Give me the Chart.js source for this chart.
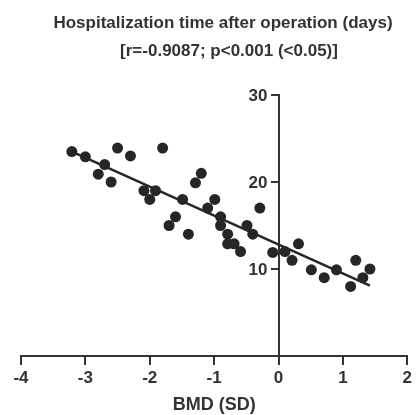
<!DOCTYPE html>
<html>
<head>
<meta charset="utf-8">
<script src="https://cdn.jsdelivr.net/npm/chart.js@4"></script>
<style>
  html, body { margin: 0; padding: 0; background: #fff; }
  #wrap { width: 416px; height: 415px; }
</style>
</head>
<body>
<div id="wrap"><canvas id="bmdChart" width="416" height="415"></canvas></div>
<script>
// values
const bmdSD = [-3.21, -3.0, -2.50, -2.30, -1.80, -2.70, -2.80, -2.60, -2.09, -1.91,
               -2.0, -1.70, -1.20, -1.29, -1.49, -0.99, -1.10, -0.29, -1.60, -0.90,
               -0.90, -0.49, -1.40, -0.40, -0.79, -0.79, -0.69, -0.59, -0.09, 0.10,
               0.31, 0.21, 0.51, 0.71, 0.90, 1.20, 1.42, 1.31, 1.12];
const hospDays = [23.5, 22.9, 23.9, 23.0, 23.9, 22.0, 20.9, 20.0, 19.0, 19.0,
                  18.0, 15.0, 21.0, 19.9, 18.0, 18.0, 17.0, 17.0, 16.0, 16.0,
                  15.0, 15.0, 14.0, 14.0, 14.0, 12.9, 12.9, 12.0, 11.9, 12.0,
                  12.9, 11.0, 9.9, 9.0, 9.9, 11.0, 10.0, 9.0, 8.0];
const fitX = [-3.21, 1.42];
const fitY = [23.5, 8.1];
const xTicks = [-4, -3, -2, -1, 0, 1, 2];
const yTicks = [10, 20, 30];
const titleLines = ['Hospitalization time after operation (days)', '[r=-0.9087; p<0.001 (<0.05)]'];
const xTitle = 'BMD (SD)';

const ink = '#262626';
const axisColor = '#333';
const fontStack = 'Arial, "Liberation Sans", sans-serif';
const boldFont = { family: fontStack, size: 17, weight: 'bold' };

// titles + y tick labels (Chart.js ignores tick padding on a value-positioned y axis)
const textPlugin = {
    id: 'prismText',
    afterDraw(chart) {
        const { ctx, chartArea, scales } = chart;
        ctx.save();
        ctx.fillStyle = axisColor;
        ctx.textAlign = 'center';
        ctx.textBaseline = 'alphabetic';
        ctx.font = 'bold 17px ' + fontStack;
        ctx.fillText(titleLines[0], 223, 28);
        ctx.fillText(titleLines[1], 229, 56);
        ctx.font = 'bold 18px ' + fontStack;
        ctx.fillText(xTitle, (chartArea.left + chartArea.right) / 2, 410);

        ctx.font = 'bold 17px ' + fontStack;
        ctx.textAlign = 'right';
        ctx.textBaseline = 'middle';
        const axisX = scales.x.getPixelForValue(0);
        scales.y.ticks.forEach(t => {
            ctx.fillText(String(t.value), axisX - 11, scales.y.getPixelForValue(t.value) + 1);
        });
        ctx.restore();
    }
};

new Chart(document.getElementById('bmdChart'), {
    type: 'scatter',
    data: {
        datasets: [
            {
                type: 'line',
                label: 'Fit',
                data: fitX.map((x, i) => ({ x: x, y: fitY[i] })),
                borderColor: ink,
                borderWidth: 2.5,
                pointRadius: 0,
                fill: false,
                order: 2
            },
            {
                label: 'Patients',
                data: bmdSD.map((x, i) => ({ x: x, y: hospDays[i] })),
                backgroundColor: ink,
                borderWidth: 0,
                pointRadius: 5.5,
                order: 1
            }
        ]
    },
    options: {
        responsive: false,
        animation: false,
        layout: { padding: { left: 21, right: 7, top: 95, bottom: 59 } },
        plugins: {
            legend: { display: false },
            tooltip: { enabled: false }
        },
        scales: {
            x: {
                type: 'linear',
                position: { y: 0 },
                min: -4,
                max: 2,
                afterBuildTicks: s => { s.ticks = xTicks.map(v => ({ value: v })); },
                grid: { drawOnChartArea: false, drawTicks: true, tickLength: 8, color: axisColor, lineWidth: 2 },
                border: { display: true, color: axisColor, width: 2 },
                ticks: { font: boldFont, color: axisColor, padding: 4, maxRotation: 0 }
            },
            y: {
                type: 'linear',
                position: { x: 0 },
                min: 0,
                max: 30,
                afterBuildTicks: s => { s.ticks = yTicks.map(v => ({ value: v })); },
                grid: { drawOnChartArea: false, drawTicks: true, tickLength: 7, color: axisColor, lineWidth: 2 },
                border: { display: true, color: axisColor, width: 2 },
                ticks: { display: false }
            }
        }
    },
    plugins: [textPlugin]
});
</script>
</body>
</html>
